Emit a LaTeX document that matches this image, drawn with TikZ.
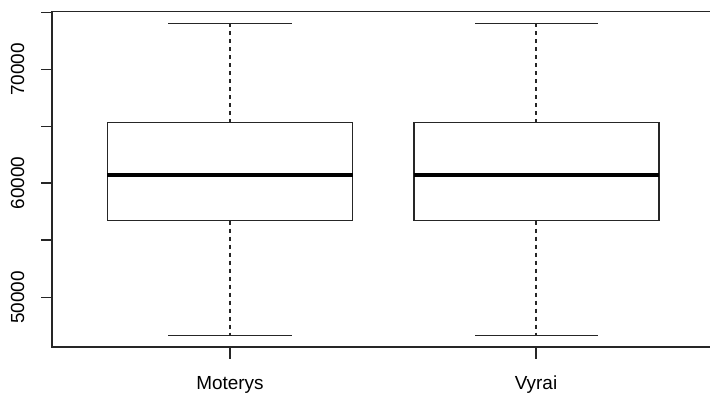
\documentclass[tikz,border=0pt]{standalone}
\usepackage{fontspec}
\setmainfont{Liberation Sans}
\begin{document}
\begin{tikzpicture}[x=1bp,y=-1bp,
  ln/.style={line width=1.3bp,black!85},
  whisk/.style={line width=1.3bp,black!85,dash pattern=on 4bp off 4bp},
  med/.style={line width=3.4bp,black},
  lbl/.style={font=\fontsize{19}{19}\selectfont,inner sep=0pt}]
\useasboundingbox (0,0) rectangle (710,393);
% frame (right side outside image)
\draw[ln] (720,11.5) -- (52,11.5) -- (52,347) -- (720,347);
% y ticks
\foreach \y in {12.3,69.5,126.3,183,240,297.5}
  \draw[ln] (41,\y) -- (52,\y);
\foreach \y/\t in {69.5/70000,183/60000,297.5/50000}
  \node[lbl,rotate=90] (yl\t) at (17.5,\y) {\t};
% x ticks and labels
\foreach \x/\t in {230/Moterys,536/Vyrai}{
  \draw[ln] (\x,347) -- (\x,359);
  \node[lbl,anchor=base] (xl\t) at (\x,389.5) {\t};
}
% boxes
\foreach \c/\l/\r/\cl/\cr in {230/107.3/352.7/168/292, 536/414/659/475/598}{
  \coordinate (top\c) at (\c,23.3);
  \coordinate (bot\c) at (\c,335.3);
  \coordinate (q3\c) at (\c,122.7);
  \coordinate (q1\c) at (\c,220.7);
  \draw[whisk] (top\c) -- (q3\c);
  \draw[whisk] (q1\c) -- (bot\c);
  \draw[ln] (\cl,23.3) -- (\cr,23.3);
  \draw[ln] (\cl,335.3) -- (\cr,335.3);
  \draw[ln] (\l,122.7) rectangle (\r,220.7);
  \draw[med] (\l,174.8) -- (\r,174.8);
}
\end{tikzpicture}
\end{document}
